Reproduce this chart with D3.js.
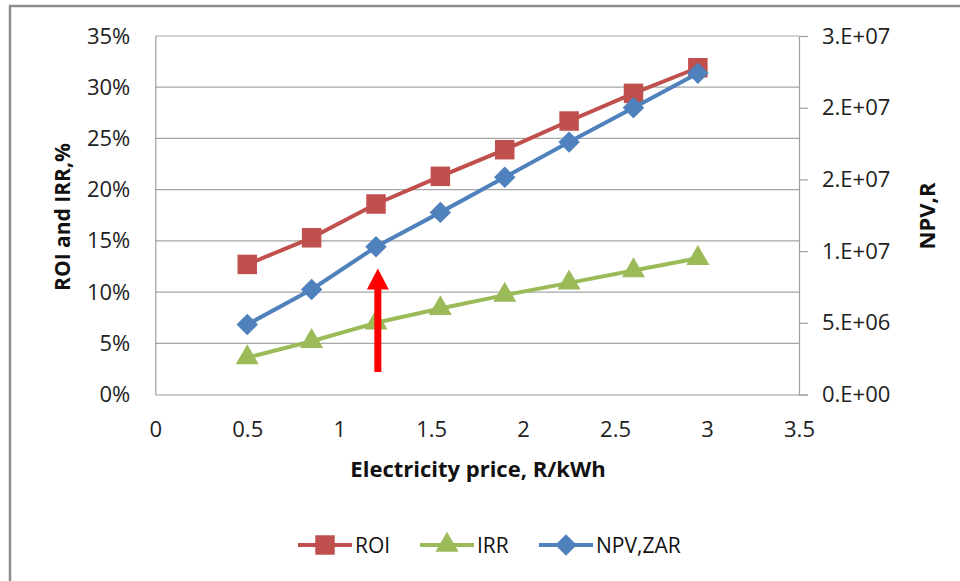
<!DOCTYPE html>
<html><head><meta charset="utf-8">
<script src="https://cdn.jsdelivr.net/npm/d3@7"></script>
<style>body{margin:0;background:#fff}svg{display:block}text{font-family:"Open Sans",Lato,sans-serif}</style>
</head><body><svg id="c" width="960" height="581"></svg>
<script>
const price = [0.5, 0.85, 1.2, 1.55, 1.9, 2.25, 2.6, 2.95];
const roi = [12.7, 15.3, 18.6, 21.3, 23.9, 26.7, 29.4, 31.9];
const irr = [3.6, 5.2, 7.0, 8.4, 9.7, 10.9, 12.1, 13.3];
const npv = [4.88e6, 7.32e6, 1.03e7, 1.27e7, 1.515e7, 1.76e7, 2.0e7, 2.24e7];
const xTicks = [0, 0.5, 1, 1.5, 2, 2.5, 3, 3.5];
const leftTicks = [0, 5, 10, 15, 20, 25, 30, 35];
const rightTicks = [0, 5e6, 1e7, 1.5e7, 2e7, 2.5e7];
const rightTickLabels = ["0.E+00", "5.E+06", "1.E+07", "2.E+07", "2.E+07", "3.E+07"];
const arrowPrice = 1.21;
const arrowFrom = 2.2, arrowTo = 12.3;

const svg = d3.select("#c");
const L = 155.3, R = 799, T = 36, B = 394.5;
const x = d3.scaleLinear().domain([0, 3.5]).range([L, R]);
const yL = d3.scaleLinear().domain([0, 35]).range([B, T]);
const yR = d3.scaleLinear().domain([0, 2.5e7]).range([B, T]);

// outer frame (top & left visible)
svg.append("path").attr("d", "M10,581 L10,6 L960,6").attr("fill", "none").attr("stroke", "#8c8c8c").attr("stroke-width", 2.5);

// gridlines
svg.append("g").selectAll("line").data(leftTicks.slice(1)).join("line")
  .attr("x1", L).attr("x2", R).attr("y1", d => yL(d)).attr("y2", d => yL(d))
  .attr("stroke", "#a6a6a6").attr("stroke-width", 1.2);

const axisColor = "#a0a0a0";
const tickFont = 22;
const gx = svg.append("g").attr("transform", `translate(0,${B})`)
  .call(d3.axisBottom(x).tickValues(xTicks).tickSize(0).tickPadding(27).tickFormat(d3.format("")));
gx.attr("font-size", tickFont).attr("font-family", null);
gx.select(".domain").attr("stroke", axisColor).attr("stroke-width", 1.2);
gx.selectAll("text").style("font-size", tickFont + "px").attr("fill", "#222");

const gl = svg.append("g").attr("transform", `translate(${L},0)`)
  .call(d3.axisLeft(yL).tickValues(leftTicks).tickSize(0).tickPadding(25).tickFormat(d => d + "%"));
gl.attr("font-size", tickFont).attr("font-family", null);
gl.select(".domain").attr("stroke", axisColor).attr("stroke-width", 1.2);
gl.selectAll("text").style("font-size", tickFont + "px").attr("fill", "#222");

const gr = svg.append("g").attr("transform", `translate(${R},0)`)
  .call(d3.axisRight(yR).tickValues(rightTicks).tickSize(9).tickPadding(14).tickFormat((d, i) => rightTickLabels[i]));
gr.attr("font-size", tickFont).attr("font-family", null);
gr.select(".domain").attr("stroke", axisColor).attr("stroke-width", 1.2);
gr.selectAll("line").attr("stroke", axisColor).attr("stroke-width", 1.2);
gr.selectAll("text").style("font-size", tickFont + "px").attr("fill", "#222");

// axis titles
svg.append("text").attr("x", 478).attr("y", 477).attr("text-anchor", "middle")
  .attr("font-size", 22).attr("font-weight", "bold").attr("fill", "#111").text("Electricity price, R/kWh");
svg.append("text").attr("transform", "translate(70,217) rotate(-90)").attr("text-anchor", "middle")
  .attr("font-size", 21).attr("font-weight", "bold").attr("fill", "#111").text("ROI and IRR,%");
svg.append("text").attr("transform", "translate(935,216) rotate(-90)").attr("text-anchor", "middle")
  .attr("font-size", 22).attr("font-weight", "bold").attr("fill", "#111").text("NPV,R");

const series = [
  {name: "ROI", vals: roi, y: yL, color: "#c0504d", sym: d3.symbolSquare, size: 380, rot: 0},
  {name: "IRR", vals: irr, y: yL, color: "#9bbb59", sym: d3.symbolTriangle, size: 230, rot: 0},
  {name: "NPV,ZAR", vals: npv, y: yR, color: "#4f81bd", sym: d3.symbolSquare, size: 230, rot: 45}
];
const line = (ys) => d3.line().x((d, i) => x(price[i])).y(d => ys(d));
series.forEach(s => {
  svg.append("path").datum(s.vals).attr("d", line(s.y)).attr("fill", "none")
    .attr("stroke", s.color).attr("stroke-width", 4).attr("stroke-linejoin", "round");
  svg.append("g").selectAll("path").data(s.vals).join("path")
    .attr("transform", (d, i) => `translate(${x(price[i])},${s.y(d)}) rotate(${s.rot})`)
    .attr("d", d3.symbol().type(s.sym).size(s.size)).attr("fill", s.color);
});

// red arrow
const ax = x(arrowPrice), ay0 = yL(arrowFrom), ay1 = yL(arrowTo);
svg.append("line").attr("x1", ax).attr("x2", ax).attr("y1", ay0).attr("y2", ay1 + 18)
  .attr("stroke", "#ff0000").attr("stroke-width", 7);
svg.append("path").attr("d", `M${ax - 11},${ay1 + 21} L${ax},${ay1} L${ax + 11},${ay1 + 21} Z`).attr("fill", "#ff0000");

// legend
const legX = [298, 420, 539];
series.forEach((s, i) => {
  const g = svg.append("g").attr("transform", `translate(${legX[i]},545)`);
  g.append("line").attr("x1", 0).attr("x2", 54).attr("stroke", s.color).attr("stroke-width", 4);
  g.append("path").attr("transform", `translate(27,0) rotate(${s.rot})`).attr("d", d3.symbol().type(s.sym).size(s.size)).attr("fill", s.color);
  g.append("text").attr("x", 57).attr("y", 7.5).style("font-size", "21px").attr("fill", "#111").text(s.name);
});
</script></body></html>
